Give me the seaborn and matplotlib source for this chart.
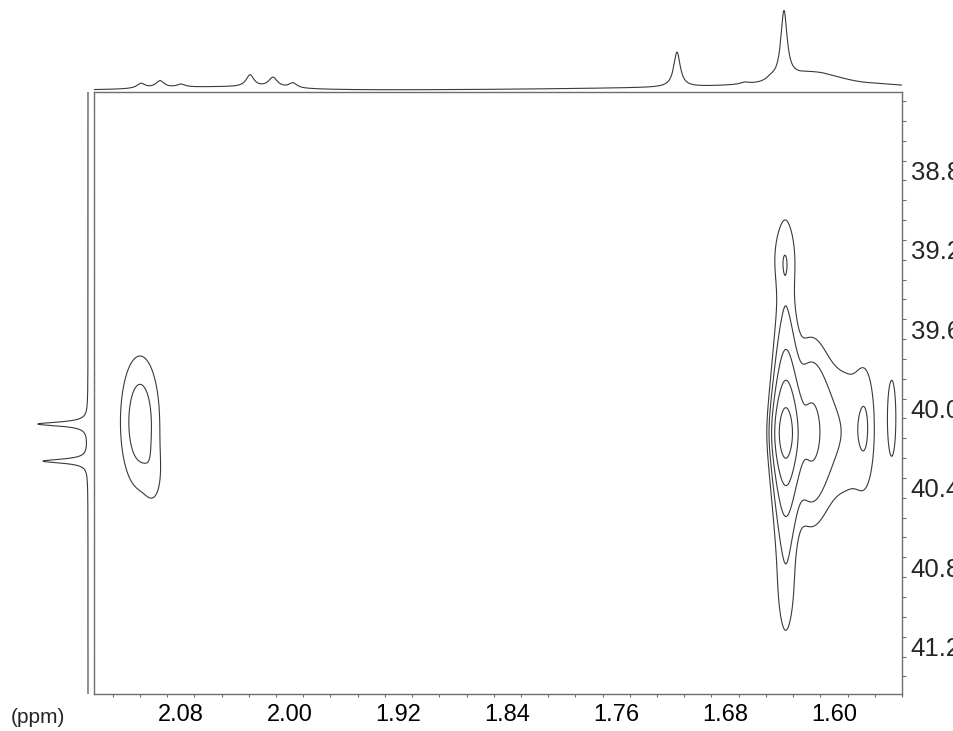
import numpy as np
import pandas as pd
import matplotlib
matplotlib.use("Agg")
import matplotlib.pyplot as plt
import seaborn as sns

# ---------------- axis definition (ppm) ----------------
x_lim = (2.1438, 1.5516)          # 1H axis, left -> right
y_lim = (41.439, 38.404)          # 13C axis, bottom -> top
x_label_vals = [2.08, 2.00, 1.92, 1.84, 1.76, 1.68, 1.60]
x_labels = ["2.08", "2.00", "1.92", "1.84", "1.76", "1.68", "1.60"]
x_tick_vals = [2.13, 2.11, 2.09, 2.07, 2.05, 2.03, 2.01, 1.99, 1.97, 1.95,
               1.93, 1.91, 1.89, 1.87, 1.85, 1.83, 1.81, 1.79, 1.77, 1.75,
               1.73, 1.71, 1.69, 1.67, 1.65, 1.63, 1.61, 1.59, 1.57, 1.55]
y_label_vals = [38.8, 39.2, 39.6, 40.0, 40.4, 40.8, 41.2]
y_labels = ["38.8", "39.2", "39.6", "40.0", "40.4", "40.8", "41.2"]
y_tick_vals = [38.45, 38.55, 38.65, 38.75, 38.85, 38.95, 39.05, 39.15, 39.25,
               39.35, 39.45, 39.55, 39.65, 39.75, 39.85, 39.95, 40.05, 40.15,
               40.25, 40.35, 40.45, 40.55, 40.65, 40.75, 40.85, 40.95, 41.05,
               41.15, 41.25, 41.35]

# ---------------- 2D cross peaks ----------------
cp_h = [1.6356, 1.6367, 1.6345, 1.6176, 1.6007, 1.5766, 1.5575, 2.1100, 2.0995, 1.5839]
cp_c = [40.123, 39.236, 40.940, 40.118, 40.118, 40.093, 40.048, 40.068, 40.356, 40.118]
cp_amp = [1.000, 0.046, 0.018, 0.170, 0.075, 0.060, 0.060, 0.125, 0.035, 0.030]
cp_wh = [0.0055, 0.0068, 0.0068, 0.0088, 0.0132, 0.0051, 0.0038, 0.0100, 0.0051, 0.0095]
cp_wc = [0.1916, 0.121, 0.151, 0.277, 0.252, 0.217, 0.242, 0.232, 0.111, 0.313]
cp_lorentz_c = [True, False, False, False, False, False, False, False, False, False]
contour_levels = [0.0446, 0.0893, 0.179, 0.357, 0.714]

# ---------------- top (1H) projection ----------------
top_h = [2.1093, 2.0954, 2.0800, 2.0294, 2.0126, 1.9979, 1.7165, 1.6381, 1.6667, 1.6476]
top_amp = [5, 7, 3, 12, 10, 5, 35, 68, 2, 3]
top_w = [0.0037, 0.0037, 0.0037, 0.0035, 0.0040, 0.0035, 0.0029, 0.0028, 0.0040, 0.0040]
top_broad_h = [2.0514, 1.617, 1.6557, 1.575, 1.66]
top_broad_amp = [3, 12, 2, 4, 3]
top_broad_sig = [0.044, 0.018, 0.030, 0.030, 0.110]
top_offset = 2.0

# ---------------- left (13C) projection ----------------
left_c = [40.078, 40.265]
left_amp = [50, 45]
left_w = [0.0121, 0.0121]
left_offset = 5.0

# ---------------- build data ----------------
h_axis = np.linspace(x_lim[1], x_lim[0], 900)
c_axis = np.linspace(y_lim[1], y_lim[0], 800)
HH, CC = np.meshgrid(h_axis, c_axis)
Z = np.zeros_like(HH)
for h0, c0, a, wh, wc, lor in zip(cp_h, cp_c, cp_amp, cp_wh, cp_wc, cp_lorentz_c):
    gx = np.exp(-0.5 * ((HH - h0) / wh) ** 2)
    if lor:
        gy = 1.0 / (1.0 + ((CC - c0) / wc) ** 2)
    else:
        gy = np.exp(-0.5 * ((CC - c0) / wc) ** 2)
    Z += a * gx * gy

h_line = np.linspace(x_lim[1], x_lim[0], 1600)
top_int = np.full_like(h_line, top_offset)
for h0, a, w in zip(top_h, top_amp, top_w):
    top_int += a / (1.0 + ((h_line - h0) / w) ** 2)
for h0, a, s in zip(top_broad_h, top_broad_amp, top_broad_sig):
    top_int += a * np.exp(-0.5 * ((h_line - h0) / s) ** 2)
df_top = pd.DataFrame({"ppm": h_line, "intensity": top_int})

c_line = np.linspace(y_lim[1], y_lim[0], 1600)
left_int = np.full_like(c_line, left_offset)
for c0, a, w in zip(left_c, left_amp, left_w):
    left_int += a / (1.0 + ((c_line - c0) / w) ** 2)
df_left = pd.DataFrame({"ppm": c_line, "intensity": left_int})

# ---------------- figure ----------------
sns.set_theme(style="ticks")
plt.rcParams["font.family"] = ["Liberation Sans", "DejaVu Sans"]

W, H = 954, 731
fig = plt.figure(figsize=(W / 100, H / 100), dpi=100)
fig.patch.set_facecolor("white")
ax = fig.add_axes([94 / W, 37 / H, 808 / W, 602 / H])
ax_top = fig.add_axes([94 / W, 639 / H, 808 / W, 92 / H])
ax_left = fig.add_axes([0, 37 / H, 93 / W, 602 / H])

line_col = "#3a3a3a"
frame_col = "#6e6e6e"

ax.contour(h_axis, c_axis, Z, levels=contour_levels, colors=line_col, linewidths=0.8)
ax.set_xlim(*x_lim)
ax.set_ylim(*y_lim)

ax.set_xticks(x_label_vals, x_labels)
ax.set_xticks(x_tick_vals, minor=True)
ax.tick_params(axis="x", which="major", length=0, pad=7, labelsize=17, colors="black")
ax.tick_params(axis="x", which="minor", length=2.2, width=0.8, color=frame_col,
               direction="out", bottom=True, top=False)
ax.yaxis.tick_right()
ax.set_yticks(y_label_vals, y_labels)
ax.set_yticks(y_tick_vals, minor=True)
ax.tick_params(axis="y", which="major", length=0, pad=6.3, labelsize=18.5,
               right=True, left=False, labelright=True, labelleft=False)
ax.tick_params(axis="y", which="minor", length=2.9, width=0.8, color=frame_col,
               direction="out", right=True, left=False)
for sp in ax.spines.values():
    sp.set_visible(True)
    sp.set_color(frame_col)
    sp.set_linewidth(1.0)
ax.set_xlabel("")
ax.set_ylabel("")

sns.lineplot(data=df_top, x="ppm", y="intensity", ax=ax_top, color=line_col,
             linewidth=0.8, estimator=None, sort=False)
ax_top.set_xlim(*x_lim)
ax_top.set_ylim(0, 92)
ax_top.axis("off")

sns.lineplot(data=df_left, x="intensity", y="ppm", ax=ax_left, color=line_col,
             linewidth=0.8, estimator=None, sort=False, orient="y")
ax_left.set_xlim(93, 0)
ax_left.set_ylim(*y_lim)
ax_left.axis("off")

fig.text(11 / W, 1 - 723 / H, "(ppm)", fontsize=15, va="baseline", ha="left")

fig.savefig("out.png", dpi=100, facecolor="white")
